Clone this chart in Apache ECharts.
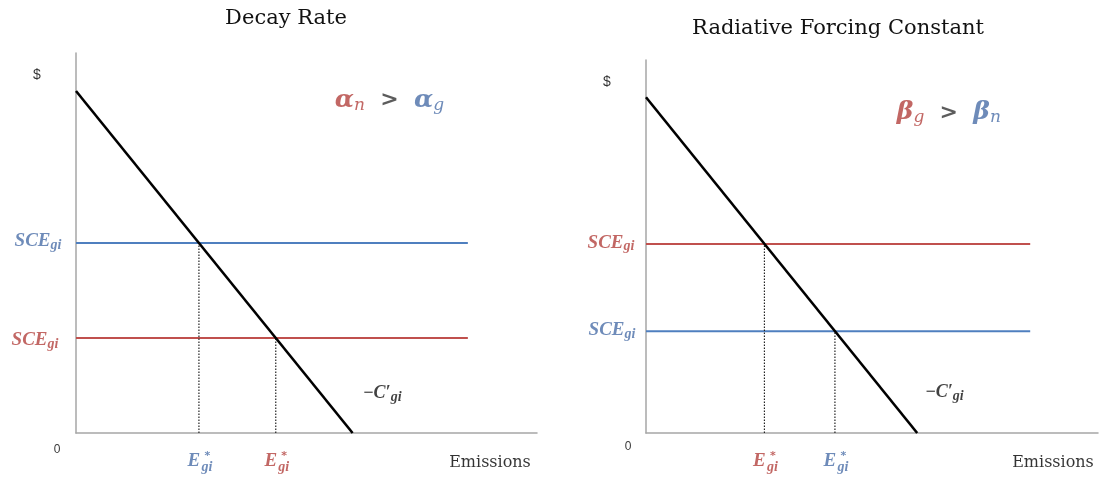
<!DOCTYPE html>
<html>
<head>
<meta charset="utf-8">
<script src="https://cdn.jsdelivr.net/npm/echarts@6/dist/echarts.min.js"></script>
<style>html,body{margin:0;padding:0;background:#fff}#c{width:1099px;height:480px}</style>
</head>
<body>
<div id="c"></div>
<script>
// ---- data ----
const titles = ['Decay Rate', 'Radiative Forcing Constant'];
const demandIntercept = [90, 90];   // $ value of -C' at zero emissions
const demandZero = [60, 60];        // emissions where -C' reaches 0
const sceHigh = [50, 50.7];         // upper SCE level
const sceLow = [25, 27.3];          // lower SCE level
const sceExtent = [85, 85];         // how far the SCE lines run
const greekSym = ['α', 'β'];
const greekSubs = [['n', 'g'], ['g', 'n']];
const xName = 'Emissions';
const yName = '$';
const originLabel = '0';

// ---- styles ----
const BLUE = '#4f7fbf', RED = '#c0504d';
const BLUE_T = '#4a6ea8', RED_T = '#b3413d';
const highColor = [BLUE, RED], lowColor = [RED, BLUE];
const highColorT = [BLUE_T, RED_T], lowColorT = [RED_T, BLUE_T];
const MATH = 'Liberation Serif';
const grids = [
  {left: 76, top: 53, width: 461, height: 380},
  {left: 646, top: 60, width: 452, height: 373}
];
const titlePos = [{x: 281, y: 3}, {x: 833, y: 13}];
const greekPos = [[68, 87.6], [67, 85.8]];
const cPos = [[66.4, 10.5], [66, 11]];
const sceHighOff = [[-38, -2], [-35, -1]];
const sceLowOff = [[-41, 2], [-34, -1]];
const zeroOff = [[-19, 17], [-18, 14]];
const nameOff = [[-47, 30], [-45, 30]];

function eStar(i, v) { return demandZero[i] * (1 - v / demandIntercept[i]); }

function mathRich(color, size) {
  return {
    m: {fontFamily: MATH, fontStyle: 'italic', fontWeight: 'bold', fontSize: size, color: color},
    s: {fontFamily: MATH, fontStyle: 'italic', fontWeight: 'bold', fontSize: Math.round(size * 0.75), color: color, padding: [8, 0, 0, 0]}
  };
}

const series = [];
const xAxis = [], yAxis = [], title = [];
for (let i = 0; i < 2; i++) {
  title.push({text: titles[i], left: titlePos[i].x, top: titlePos[i].y, textAlign: 'center',
    textStyle: {fontFamily: 'DejaVu Serif', fontSize: 21, fontWeight: 'normal', color: '#111'}});
  xAxis.push({type: 'value', gridIndex: i, min: 0, max: 100, axisLabel: {show: false}, axisTick: {show: false},
    splitLine: {show: false}, axisLine: {lineStyle: {color: '#a6a6a6', width: 1.5}}});
  yAxis.push({type: 'value', gridIndex: i, min: 0, max: 100, axisLabel: {show: false}, axisTick: {show: false},
    splitLine: {show: false}, axisLine: {show: true, lineStyle: {color: '#a6a6a6', width: 1.5}}});
  const base = {xAxisIndex: i, yAxisIndex: i, symbol: 'none', silent: true, z: 3};
  // SCE lines
  series.push(Object.assign({}, base, {type: 'line', data: [[0, sceHigh[i]], [sceExtent[i], sceHigh[i]]],
    lineStyle: {color: highColor[i], width: 2}}));
  series.push(Object.assign({}, base, {type: 'line', data: [[0, sceLow[i]], [sceExtent[i], sceLow[i]]],
    lineStyle: {color: lowColor[i], width: 2}}));
  // dotted drops
  const eh = eStar(i, sceHigh[i]), el = eStar(i, sceLow[i]);
  series.push(Object.assign({}, base, {type: 'line', data: [[eh, 0], [eh, sceHigh[i]]],
    lineStyle: {color: '#222', width: 1.2, type: [1.5, 1.5]}}));
  series.push(Object.assign({}, base, {type: 'line', data: [[el, 0], [el, sceLow[i]]],
    lineStyle: {color: '#222', width: 1.2, type: [1.5, 1.5]}}));
  // -C' line
  series.push(Object.assign({}, base, {type: 'line', z: 4, data: [[0, demandIntercept[i]], [demandZero[i], 0]],
    lineStyle: {color: '#000', width: 2.6}}));

  // labels
  const lab = (x, y, label) => series.push({type: 'scatter', xAxisIndex: i, yAxisIndex: i, symbolSize: 0, silent: true,
    data: [[x, y]], label: Object.assign({show: true, position: 'inside', align: 'center', verticalAlign: 'middle'}, label)});
  lab(0, sceHigh[i], {formatter: '{m|SCE}{s|gi}', rich: mathRich(highColorT[i], 19), offset: sceHighOff[i]});
  lab(0, sceLow[i], {formatter: '{m|SCE}{s|gi}', rich: mathRich(lowColorT[i], 19), offset: sceLowOff[i]});
  [[eh, highColorT[i]], [el, lowColorT[i]]].forEach(([e, col]) => {
    lab(e, 0, {formatter: '{m|E}', rich: mathRich(col, 19), offset: [-5, 28]});
    lab(e, 0, {formatter: '{a|*}\n{b|gi}', rich: {
      a: {fontFamily: 'DejaVu Sans', fontWeight: 'bold', fontSize: 11, color: col, lineHeight: 8, align: 'left', padding: [0, 0, 0, 3]},
      b: {fontFamily: MATH, fontStyle: 'italic', fontWeight: 'bold', fontSize: 14, color: col, lineHeight: 13}}, offset: [8, 30]});
  });
  lab(cPos[i][0], cPos[i][1], {formatter: '{m|−C′}{s|gi}', rich: mathRich('#111', 18)});
  lab(greekPos[i][0], greekPos[i][1], {
    formatter: `{r|${greekSym[i]}}{rs|${greekSubs[i][0]}}{g|  >  }{b|${greekSym[i]}}{bs|${greekSubs[i][1]}}`,
    rich: {
      r: {fontFamily: 'DejaVu Serif', fontStyle: 'italic', fontWeight: 'bold', fontSize: 25, color: RED_T},
      rs: {fontFamily: 'DejaVu Serif', fontStyle: 'italic', fontSize: 17, color: RED_T, padding: [10, 0, 0, 0]},
      g: {fontFamily: 'DejaVu Sans', fontWeight: 'bold', fontSize: 22, color: '#333'},
      b: {fontFamily: 'DejaVu Serif', fontStyle: 'italic', fontWeight: 'bold', fontSize: 25, color: BLUE_T},
      bs: {fontFamily: 'DejaVu Serif', fontStyle: 'italic', fontSize: 17, color: BLUE_T, padding: [10, 0, 0, 0]}
    }});
  lab(0, 100, {formatter: yName, fontFamily: 'Liberation Sans', fontSize: 14, color: '#000', offset: [-39, 22]});
  lab(0, 0, {formatter: originLabel, fontFamily: 'Liberation Sans', fontSize: 12, color: '#000', offset: zeroOff[i]});
  lab(100, 0, {formatter: xName, fontFamily: 'DejaVu Serif', fontSize: 16, color: '#000', offset: nameOff[i]});
}

const chart = echarts.init(document.getElementById('c'));
chart.setOption({
  animation: false,
  backgroundColor: '#fff',
  title: title,
  grid: grids,
  xAxis: xAxis,
  yAxis: yAxis,
  series: series
});
</script>
</body>
</html>
